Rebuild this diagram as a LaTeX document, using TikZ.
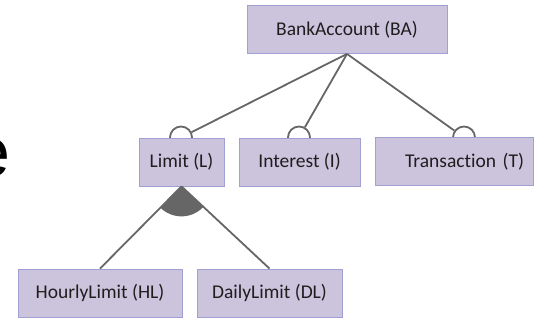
\documentclass[tikz,border=0pt]{standalone}
\usepackage{fontspec}
\setmainfont{Carlito}[Ligatures=CommonOff]
\newfontfamily\bigsans{Liberation Sans}
\usetikzlibrary{calc, backgrounds}
\definecolor{boxfill}{RGB}{204,195,220}
\definecolor{boxedge}{RGB}{160,160,212}
\definecolor{linegray}{RGB}{102,102,102}
\definecolor{textdark}{RGB}{30,30,30}
\newcommand{\featfont}{\fontsize{19.5}{23}\selectfont}
\tikzstyle{feature} = [rectangle, minimum height=48pt, text centered, draw=boxedge, fill=boxfill, line width=0.8pt, text=textdark, font=\featfont, inner sep=0pt]
\tikzstyle{optmark} = [circle, minimum size=22pt, inner sep=0pt, draw=linegray, line width=1.8pt, fill=white]
\tikzstyle{link} = [draw=linegray, line width=1.8pt]

\begin{document}
\begin{tikzpicture}[x=1pt, y=1pt]
\useasboundingbox (0,0) rectangle (534,-320);
\clip (0,0) rectangle (534,-320);

% Nodes
\node (ba) [feature, minimum width=200pt] at (347,-29.5) {BankAccount (BA)};
\node (lim) [feature, minimum width=85pt] at (181.5,-162) {Limit (L)};
\node (int) [feature, minimum width=121pt] at (299.5,-162) {Interest (I)};
\node (tr) [feature, minimum width=158pt, text width=140pt, align=right] at (454,-161.5) {Transaction (T)};
\node (hl) [feature, minimum width=164pt] at (100,-293) {HourlyLimit (HL)};
\node (dl) [feature, minimum width=145pt] at (269.5,-293) {DailyLimit (DL)};
\node (bige) [anchor=base west, inner sep=0pt, font=\bigsans\fontsize{70}{70}\selectfont] at (-29,-177) {e};

% optional markers, half hidden by the boxes
\begin{scope}[on background layer]
\node (cl) [optmark] at (181,-137.5) {};
\node (ci) [optmark] at (299,-137.5) {};
\node (ct) [optmark] at (464,-137.5) {};
\end{scope}

% Arrows
\draw [link] (ba.south) -- (cl);
\draw [link] (ba.south) -- (ci);
\draw [link] (ba.south) -- (ct);

% group arc under Limit
\fill [linegray] let \p1 = ($(hl.north)-(lim.south)$), \p2 = ($(dl.north)-(lim.south)$),
  \n1 = {atan2(\y1,\x1)}, \n2 = {atan2(\y2,\x2)} in
  (lim.south) -- +(\n1:30pt) arc[start angle=\n1, end angle=\n2, radius=30pt] -- cycle;
\draw [link] (lim.south) -- (hl.north);
\draw [link] (lim.south) -- (dl.north);

\end{tikzpicture}
\end{document}
